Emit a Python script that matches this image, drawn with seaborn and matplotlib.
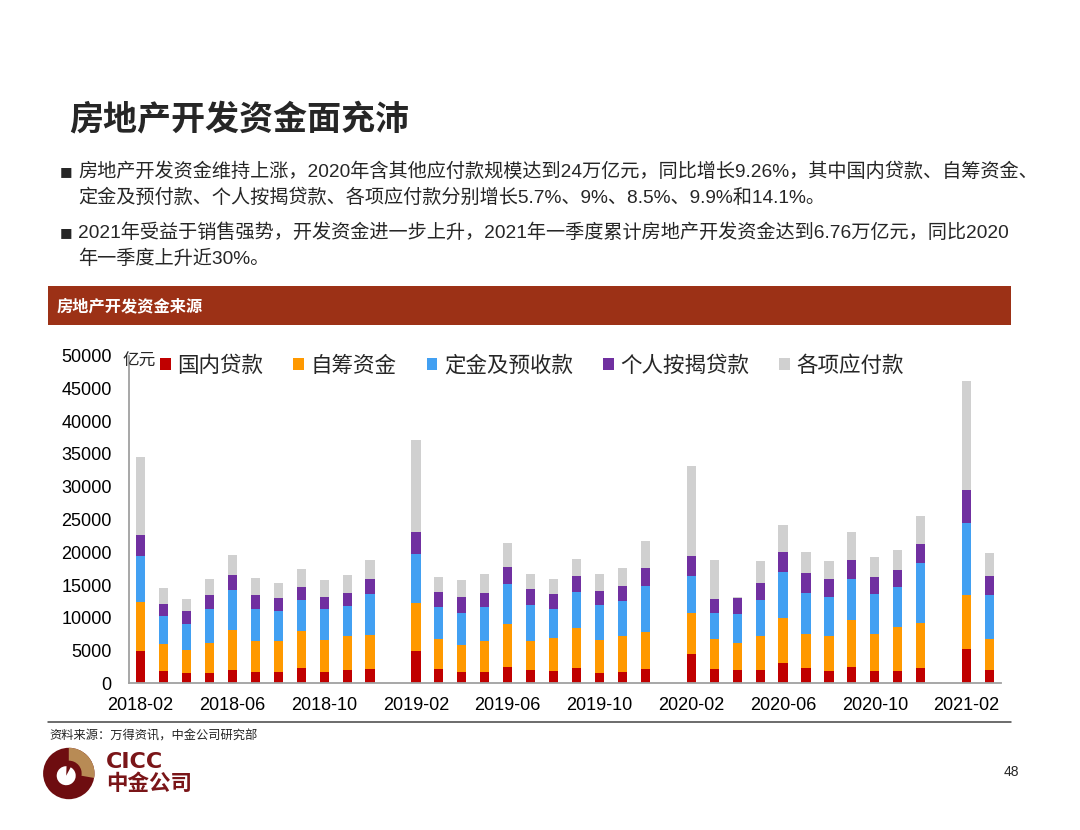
import numpy as np
import pandas as pd
import matplotlib
matplotlib.use("Agg")
import matplotlib.pyplot as plt
from matplotlib.patches import Patch, Rectangle, Circle, Wedge
import seaborn as sns

# ---------------- data (亿元) ----------------
months = ["2018-02", "2018-03", "2018-04", "2018-05", "2018-06", "2018-07", "2018-08",
          "2018-09", "2018-10", "2018-11", "2018-12", "2019-01",
          "2019-02", "2019-03", "2019-04", "2019-05", "2019-06", "2019-07", "2019-08",
          "2019-09", "2019-10", "2019-11", "2019-12", "2020-01",
          "2020-02", "2020-03", "2020-04", "2020-05", "2020-06", "2020-07", "2020-08",
          "2020-09", "2020-10", "2020-11", "2020-12", "2021-01",
          "2021-02", "2021-03"]

domestic_loans = [5000, 1890, 1630, 1530, 2090, 1790, 1790, 2300, 1680, 2090, 2190, None,
                  5000, 2140, 1790, 1790, 2550, 2040, 1940, 2350, 1630, 1730, 2240, None,
                  4540, 2140, 1990, 1990, 3110, 2350, 1890, 2450, 1890, 1890, 2400, None,
                  5200, 1990]
self_raised = [7400, 4180, 3520, 4640, 6120, 4640, 4690, 5660, 4950, 5150, 5250, None,
               7290, 4590, 4030, 4690, 6530, 4390, 5050, 6020, 4950, 5560, 5660, None,
               6220, 4640, 4180, 5300, 6890, 5100, 5300, 7240, 5560, 6680, 6780, None,
               8310, 4790]
deposits = [6990, 4130, 3880, 5150, 6020, 4900, 4490, 4790, 4690, 4590, 6220, None,
            7400, 4950, 4900, 5150, 6070, 5460, 4390, 5510, 5300, 5300, 6890, None,
            5560, 3980, 4440, 5460, 6990, 6380, 6020, 6270, 6220, 6070, 9180, None,
            11020, 6730]
mortgages = [3320, 1940, 1990, 2090, 2240, 2140, 1990, 1890, 1890, 1990, 2190, None,
             3420, 2190, 2400, 2190, 2550, 2450, 2300, 2450, 2240, 2240, 2860, None,
             3060, 2140, 2400, 2550, 3060, 3010, 2750, 2860, 2500, 2700, 2960, None,
             5000, 2910]
payables = [11880, 2450, 1790, 2550, 3060, 2600, 2300, 2800, 2550, 2650, 3010, None,
            14030, 2400, 2650, 2800, 3770, 2350, 2300, 2650, 2500, 2800, 4030, None,
            13720, 5970, 150, 3320, 4180, 3210, 2750, 4340, 3110, 2960, 4280, None,
            16680, 3470]

series_names = ["国内贷款", "自筹资金", "定金及预收款", "个人按揭贷款", "各项应付款"]
series_colors = ["#C00000", "#FF9900", "#42A0F2", "#7030A0", "#D0D0D0"]
tick_labels = months[::4]

# ---------------- style ----------------
sns.set_style("white")
CJK = ["Liberation Sans", "Noto Sans CJK SC", "DejaVu Sans"]
plt.rcParams["font.family"] = CJK
plt.rcParams["axes.unicode_minus"] = False

W, H = 1080, 830
fig = plt.figure(figsize=(W / 100, H / 100), dpi=100)
fig.patch.set_facecolor("white")


def P(x, y):
    return (x / W, 1 - y / H)


# ---------------- chart ----------------
ax_left, ax_right, ax_top, ax_bot = 128.5, 1001.0, 355.7, 683.3
ax = fig.add_axes([ax_left / W, 1 - ax_bot / H, (ax_right - ax_left) / W, (ax_bot - ax_top) / H])

df = pd.DataFrame({"month": months,
                   series_names[0]: domestic_loans,
                   series_names[1]: self_raised,
                   series_names[2]: deposits,
                   series_names[3]: mortgages,
                   series_names[4]: payables})
vals = df[series_names].astype(float)
cum = vals.cumsum(axis=1, skipna=False)

# draw cumulative layers from top to bottom so that each segment shows its own colour
for name, color in reversed(list(zip(series_names, series_colors))):
    sub = pd.DataFrame({"month": months, "v": cum[name]}).dropna()
    sns.barplot(data=sub, x="month", y="v", order=months, color=color, saturation=1,
                width=0.4, errorbar=None, linewidth=0, ax=ax)

ax.set_xlim(-0.53, 37.5)
ax.set_ylim(0, 50000)
ax.set_xlabel("")
ax.set_ylabel("")
ax.set_yticks(np.arange(0, 50001, 5000))
ax.set_yticklabels([str(v) for v in range(0, 50001, 5000)])
ax.set_xticks(np.arange(0, len(months), 4))
ax.set_xticklabels(tick_labels)
ax.set_xticks(np.arange(3.5, len(months) - 1, 4), minor=True)

axis_gray = "#A0A0A0"
for side in ["top", "right"]:
    ax.spines[side].set_visible(False)
for side in ["left", "bottom"]:
    ax.spines[side].set_color(axis_gray)
    ax.spines[side].set_linewidth(1.3)

ax.tick_params(axis="y", which="major", direction="in", length=4, width=1, color=axis_gray,
               labelsize=13, pad=12, labelcolor="black")
ax.tick_params(axis="x", which="major", length=0, labelsize=13, pad=10, labelcolor="black")
ax.tick_params(axis="x", which="minor", direction="in", length=5, width=1, color=axis_gray)
for t in ax.get_xticklabels() + ax.get_yticklabels():
    t.set_family(CJK)
ax.grid(False)
ax.set_facecolor("none")

# legend
handles = [Patch(facecolor=c, edgecolor="none") for c in series_colors]
fig.legend(handles, series_names, loc="center left", bbox_to_anchor=P(160, 366),
           ncol=5, frameon=False, prop={"family": CJK, "size": 15.5},
           handlelength=0.5, handleheight=0.5, handletextpad=0.3, columnspacing=1.4,
           borderpad=0, borderaxespad=0)
fig.text(*P(122, 361), "亿元", fontsize=12, va="center", ha="left", family=CJK)

# ---------------- slide decoration ----------------
fig.text(*P(69, 119), "房地产开发资金面充沛", fontsize=24.5, fontweight="bold",
         va="center", ha="left", family=["Noto Sans CJK SC"])

bullet_lines = [
    (172, "房地产开发资金维持上涨，2020年含其他应付款规模达到24万亿元，同比增长9.26%，其中国内贷款、自筹资金、", True),
    (198, "定金及预付款、个人按揭贷款、各项应付款分别增长5.7%、9%、8.5%、9.9%和14.1%。", False),
    (233, "2021年受益于销售强势，开发资金进一步上升，2021年一季度累计房地产开发资金达到6.76万亿元，同比2020", True),
    (259, "年一季度上升近30%。", False),
]
for y, txt, bullet in bullet_lines:
    if bullet:
        fig.text(*P(59.5, y), "■", fontsize=9.5, va="center", ha="left", family=["DejaVu Sans"])
    fig.text(*P(78, y), txt, fontsize=13.8, va="center", ha="left", family=CJK)

fig.patches.append(Rectangle(P(48, 325), (1011 - 48) / W, (325 - 286) / H,
                             transform=fig.transFigure, facecolor="#9C3116", edgecolor="none"))
fig.text(*P(57, 306), "房地产开发资金来源", fontsize=11.7, fontweight="bold", color="white",
         va="center", ha="left", family=["Noto Sans CJK SC"])

fig.add_artist(plt.Line2D([48 / W, 1011 / W], [1 - 722 / H, 1 - 722 / H],
                          transform=fig.transFigure, color="#444444", linewidth=1.1))
fig.text(*P(49, 736), "资料来源：万得资讯，中金公司研究部", fontsize=8.8, color="#222222",
         va="center", ha="left", family=CJK)
fig.text(*P(1011, 772), "48", fontsize=10, va="center", ha="center", family=CJK)

# logo
lax = fig.add_axes([40 / W, 1 - 804 / H, 60 / W, 60 / H])
lax.set_xlim(0, 60)
lax.set_ylim(0, 60)
lax.axis("off")
cx, cy, R = 28.8, 30.5, 25.7
dark_red = "#6E0D10"
lax.add_patch(Circle((cx, cy), R, facecolor=dark_red, edgecolor="none"))
lax.add_patch(Wedge((cx, cy), R, -10, 90, width=R * 0.5, facecolor="#B88B55", edgecolor="none"))
wx, wy, wr = cx - 2.6, cy - 2.2, 9.5
lax.add_patch(Wedge((wx, wy), wr, 88, 62 + 360, facecolor="white", edgecolor="none"))
fig.text(*P(106, 762), "CICC", fontsize=16, fontweight="bold", color="#7A1518",
         va="center", ha="left", family=["DejaVu Sans"])
fig.text(*P(106, 783), "中金公司", fontsize=15.5, fontweight="bold", color="#7A1518",
         va="center", ha="left", family=["Noto Sans CJK SC"])

fig.savefig("out.png", dpi=100, facecolor="white")
